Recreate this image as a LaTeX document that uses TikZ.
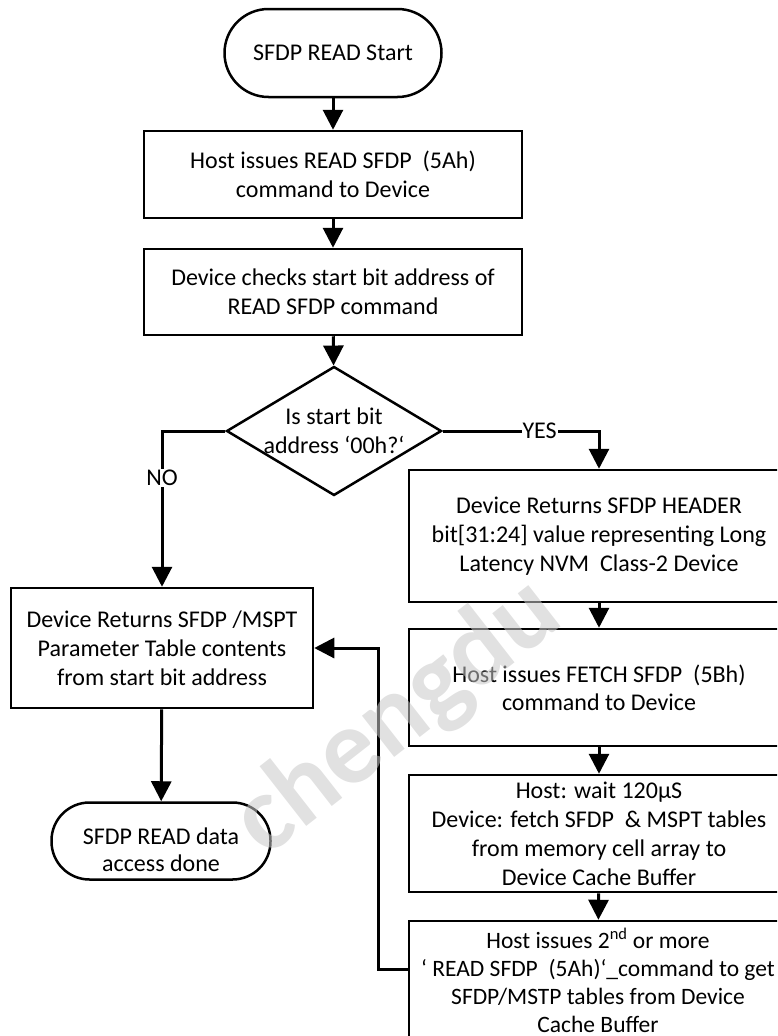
\documentclass[tikz,border=0pt]{standalone}
\usepackage{fontspec}
\setmainfont{Carlito}
\usetikzlibrary{arrows.meta,shapes.geometric}
\definecolor{wmgray}{RGB}{200,200,200}
\tikzset{
  flownode/.style  = {draw, line width=2.5pt, align=center, inner sep=2pt,
                      font=\fontsize{24}{29}\selectfont},
  terminal/.style  = {flownode, rectangle},
  process/.style   = {flownode, rectangle},
  decision/.style  = {flownode, diamond, inner sep=0pt},
  flowtext/.style  = {align=center, font=\fontsize{24}{29}\selectfont},
  answer/.style    = {fill=white, inner sep=1pt, font=\fontsize{24}{29}\selectfont},
  flow/.style      = {draw, line width=3pt, -{Triangle[length=20pt,width=20pt]}},
  watermark/.style = {text=wmgray, opacity=0.55, font=\fontsize{108}{108}\selectfont\bfseries}
}

\begin{document}
\begin{tikzpicture}
  [
    x = 1pt,
    y = -1pt
  ]
  \useasboundingbox (0,0) rectangle (777,1036);
  \clip (0,0) rectangle (777,1036);

  % main column
  \node [terminal, rounded corners=44pt, minimum width=217pt, minimum height=88pt]
    (start) at (333,53) {SFDP READ Start};
  \node [process, minimum width=378pt, minimum height=87pt]
    (issue) at (333,174.5) {Host issues READ SFDP \ (5Ah)\\command to Device};
  \node [process, minimum width=378pt, minimum height=86pt]
    (check) at (333,292) {Device checks start bit address of\\READ SFDP command};
  \node [decision, minimum width=215pt, minimum height=129pt]
    (dec) at (334,431) {};
  \node [flowtext] (dec-q) at (dec) {Is start bit\\address ‘00h?‘};

  % NO branch
  \node [process, minimum width=302pt, minimum height=120pt]
    (ret) at (162,648) {Device Returns SFDP /MSPT\\Parameter Table contents\\from start bit address};
  \node [terminal, rounded corners=38pt, minimum width=219pt, minimum height=77pt]
    (done) at (161,841) {};
  \node [flowtext, font=\fontsize{24}{27}\selectfont] (done-t) at (161,850) {SFDP READ data\\access done};

  % YES branch
  \node [process, minimum width=380pt, minimum height=132pt]
    (hdr) at (599,536) {Device Returns SFDP HEADER\\bit[31:24] value representing Long\\Latency NVM \ Class-2 Device};
  \node [process, minimum width=380pt, minimum height=117pt, font=\fontsize{24}{28}\selectfont]
    (fetch) at (599,687.5) {Host issues FETCH SFDP \ (5Bh)\\command to Device};
  \node [process, minimum width=380pt, minimum height=117pt]
    (wait) at (599,833.5) {Host: wait 120µS\\Device: fetch SFDP \ \& MSPT tables\\from memory cell array to\\Device Cache Buffer};
  \node [process, minimum width=378pt, minimum height=118pt, font=\fontsize{23.5}{28}\selectfont]
    (again) at (598,980) {Host issues 2\textsuperscript{nd} or more\\‘ READ SFDP \ (5Ah)‘\_command to get\\SFDP/MSTP tables from Device\\Cache Buffer};
  \coordinate (loop) at (378,969);

  % connectors
  \draw [flow] (start) -- (issue);
  \draw [flow] (issue) -- (check);
  \draw [flow] (check) -- (dec);
  \draw [flow] (dec.west) -| node [answer, pos=0.65] {NO} (ret.north);
  \draw [flow] (dec.east) -| node [answer, pos=0.31] {YES} (hdr.north);
  \draw [flow] (ret) -- (done);
  \draw [flow] (hdr) -- (fetch);
  \draw [flow] (fetch) -- (wait);
  \draw [flow] (wait) -- (again);
  \draw [flow] (again.west |- loop) -- (loop) |- (ret.east);

  \node [watermark, rotate=38] (wm) at (398,718) {chengdu};
\end{tikzpicture}
\end{document}
